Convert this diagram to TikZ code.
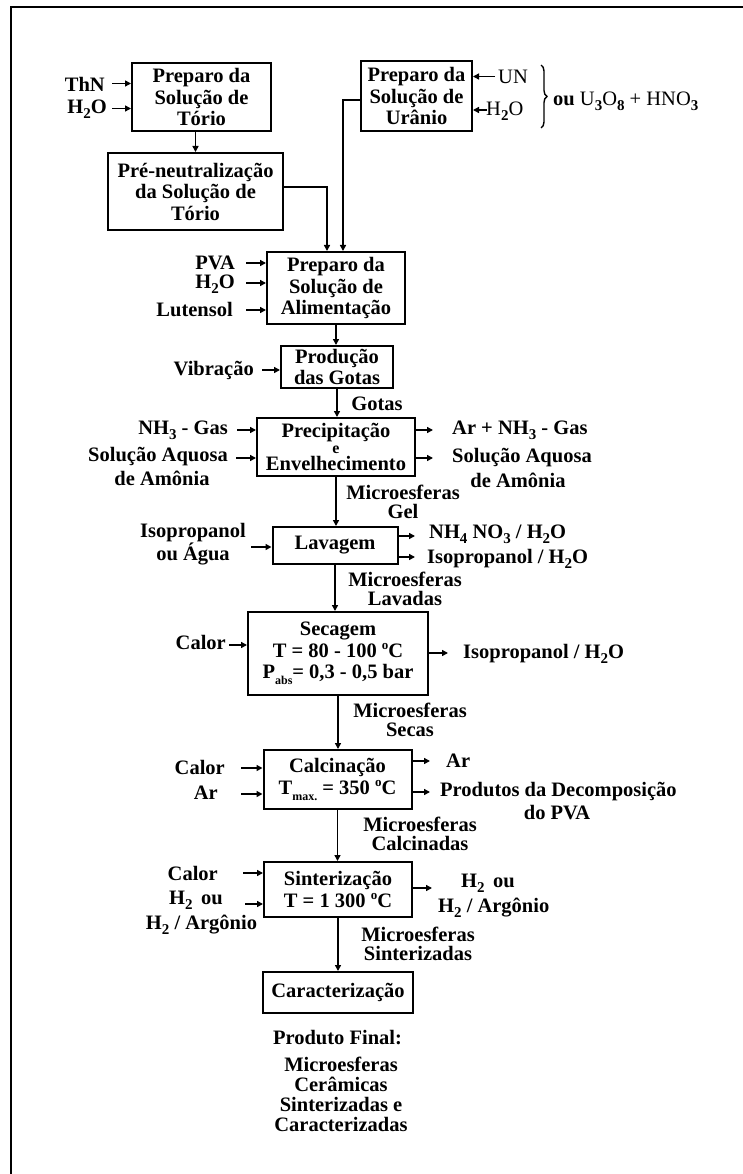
\documentclass[tikz,border=0pt]{standalone}
\usepackage{fontspec}
\setmainfont{Liberation Serif}
\usetikzlibrary{arrows.meta,decorations.pathreplacing}
% subscripts / superscripts used in the chemical formulas and units
\newcommand\lowidx[1]{\raisebox{-0.5ex}{\fontsize{15}{15}\selectfont\bfseries #1}}
\newcommand\smallidx[1]{\raisebox{-0.6ex}{\fontsize{12}{12}\selectfont\bfseries #1}}
\newcommand\highidx[1]{\raisebox{0.85ex}{\fontsize{13}{13}\selectfont #1}}

\begin{document}
\begin{tikzpicture}[x=1pt,y=-1pt,
  every node/.style={font=\fontsize{20.5}{21.5}\selectfont\bfseries, inner sep=0pt, align=center},
  stage/.style={draw, line width=2pt},
  lab/.style={},
  thin/.style={font=\fontsize{20.5}{21.5}\selectfont},
  tag/.style={font=\fontsize{20.5}{19.5}\selectfont\bfseries},
  arr/.style={line width=1.8pt, -{Triangle[length=6pt,width=6pt]}}]

\useasboundingbox (0,0) rectangle (743,1174);
\fill[white] (0,0) rectangle (743,1174);

% outer frame
\draw[line width=1.8pt] (11,1174) -- (11,7) -- (743,7);

% process stages
\node[stage, minimum width=139pt, minimum height=68pt] (tor) at (201.5,97) {Preparo da\\Solução de\\Tório};
\node[stage, minimum width=175pt, minimum height=77pt] (pren) at (195.5,191.5) {Pré-neutralização\\da Solução de\\Tório};
\node[stage, minimum width=111pt, minimum height=70pt] (ura) at (416.5,96) {Preparo da\\Solução de\\Urânio};
\node[stage, minimum width=138pt, minimum height=72pt] (alim) at (336,288) {Preparo da\\Solução de\\Alimentação};
\node[stage, minimum width=112pt, minimum height=42pt] (prod) at (337,367) {Produção\\das Gotas};
\node[stage, minimum width=158pt, minimum height=58pt] (prec) at (336,447) {Precipitação\\[-6pt]{\fontsize{16}{16}\selectfont e}\\[-4pt]Envelhecimento};
\node[stage, minimum width=125pt, minimum height=37pt] (lav) at (335,545.5) {Lavagem};
\node[stage, minimum width=180pt, minimum height=83pt] (sec) at (338,653.5) {Secagem\\T = 80 - 100 \highidx{o}C\\P\smallidx{abs}= 0,3 - 0,5 bar};
\node[stage, minimum width=148pt, minimum height=59pt] (calc) at (337.5,779.5) {Calcinação\\T\smallidx{max.} = 350 \highidx{o}C};
\node[stage, minimum width=148pt, minimum height=55pt] (sint) at (338,889.5) {Sinterização\\T = 1 300 \highidx{o}C};
\node[stage, minimum width=150pt, minimum height=41pt] (car) at (338,992.5) {Caracterização};

% thorium branch
\node[lab, anchor=east] (lThN) at (105,84) {ThN};
\node[lab, anchor=east] (lH2Oa) at (107,109) {H\lowidx{2}O};
\coordinate (iThN) at (112,83.5);
\coordinate (iH2Oa) at (112,108.5);
\draw[arr] (iThN) -- (iThN -| tor.west);
\draw[arr] (iH2Oa) -- (iH2Oa -| tor.west);
\draw[arr] (pren.north |- tor.south) -- (pren.north);
\coordinate (pj) at (327,187);
\draw[arr] (pj -| pren.east) -- (pj) -- (pj |- alim.north);

% uranium branch
\node[thin, anchor=west] (lUN) at (498,77) {UN};
\node[thin, anchor=west] (lH2Ob) at (486,111) {H\lowidx{2}O};
\coordinate (iUN) at (495,76.5);
\coordinate (iH2Ob) at (487,110);
\draw[arr] (iUN) -- (iUN -| ura.east);
\draw[arr] (iH2Ob) -- (iH2Ob -| ura.east);
\draw[line width=1.4pt, decorate, decoration={brace, amplitude=6pt}] (541,65) -- (541,128);
\node[thin, anchor=west] (lalt) at (553,101) {\textbf{ou} U\lowidx{3}O\lowidx{8} + HNO\lowidx{3}};
\coordinate (uj) at (343,100);
\draw[arr] (uj -| ura.west) -- (uj) -- (uj |- alim.north);

% feed solution
\node[lab, anchor=east] (lPVA) at (235,263) {PVA};
\node[lab, anchor=east] (lH2Oc) at (235,284) {H\lowidx{2}O};
\node[lab, anchor=east] (lLut) at (233,310) {Lutensol};
\coordinate (iPVA) at (246,263);
\coordinate (iH2Oc) at (246,283);
\coordinate (iLut) at (246,310);
\draw[arr] (iPVA) -- (iPVA -| alim.west);
\draw[arr] (iH2Oc) -- (iH2Oc -| alim.west);
\draw[arr] (iLut) -- (iLut -| alim.west);
\draw[arr] (alim.south) -- (alim.south |- prod.north);

% droplets
\node[lab, anchor=east] (lVib) at (254,370) {Vibração};
\coordinate (iVib) at (262,370);
\draw[arr] (iVib) -- (iVib -| prod.west);
\draw[arr] (prod.south) -- (prod.south |- prec.north);
\node[tag] (tGotas) at (377,404) {Gotas};

% precipitation and ageing
\node[lab, anchor=east] (lNH3) at (228,430) {NH\lowidx{3} - Gas};
\node[lab, anchor=east] (lSol) at (228,457) {Solução Aquosa};
\node[lab] (lAmo) at (162,478) {de Amônia};
\coordinate (iNH3) at (237,430);
\coordinate (iSol) at (236,458);
\draw[arr] (iNH3) -- (iNH3 -| prec.west);
\draw[arr] (iSol) -- (iSol -| prec.west);
\node[lab, anchor=west] (oArNH3) at (452,430) {Ar + NH\lowidx{3} - Gas};
\node[lab, anchor=west] (oSol) at (452,458) {Solução Aquosa};
\node[lab] (oAmo) at (518,480) {de Amônia};
\coordinate (eArNH3) at (433,430);
\coordinate (eSol) at (433,458);
\draw[arr] (eArNH3 -| prec.east) -- (eArNH3);
\draw[arr] (eSol -| prec.east) -- (eSol);
\draw[arr] (prec.south) -- (prec.south |- lav.north);
\node[tag] (tGel) at (403,502) {Microesferas\\Gel};

% washing
\node[lab] (lIso) at (193,544) {Isopropanol\\ou Água};
\coordinate (iIso) at (251,547);
\draw[arr] (iIso) -- (iIso -| lav.west);
\node[lab, anchor=west] (oNH4) at (429,534) {NH\lowidx{4} NO\lowidx{3} / H\lowidx{2}O};
\node[lab, anchor=west] (oIsoA) at (427,559) {Isopropanol / H\lowidx{2}O};
\coordinate (eNH4) at (415,536);
\coordinate (eIsoA) at (415,557);
\draw[arr] (eNH4 -| lav.east) -- (eNH4);
\draw[arr] (eIsoA -| lav.east) -- (eIsoA);
\draw[arr] (lav.south) -- (lav.south |- sec.north);
\node[tag] (tLav) at (405,589) {Microesferas\\Lavadas};

% drying
\node[lab, anchor=east] (lCalA) at (226,642) {Calor};
\coordinate (iCalA) at (229,645);
\draw[arr] (iCalA) -- (iCalA -| sec.west);
\node[lab, anchor=west] (oIsoB) at (463,654) {Isopropanol / H\lowidx{2}O};
\coordinate (eIsoB) at (448,653);
\draw[arr] (eIsoB -| sec.east) -- (eIsoB);
\draw[arr] (sec.south) -- (sec.south |- calc.north);
\node[tag] (tSec) at (410,720) {Microesferas\\Secas};

% calcination
\node[lab, anchor=east] (lCalB) at (225,767) {Calor};
\node[lab, anchor=east] (lAr) at (218,793) {Ar};
\coordinate (iCalB) at (241,768);
\coordinate (iAr) at (241,794);
\draw[arr] (iCalB) -- (iCalB -| calc.west);
\draw[arr] (iAr) -- (iAr -| calc.west);
\node[lab, anchor=west] (oAr) at (446,761) {Ar};
\node[lab, anchor=west] (oProd) at (440,792) {Produtos da Decomposição};
\node[lab] (oPVA) at (557,813) {do PVA};
\coordinate (eAr) at (430,761);
\coordinate (eProd) at (430,792);
\draw[arr] (eAr -| calc.east) -- (eAr);
\draw[arr] (eProd -| calc.east) -- (eProd);
\draw[arr] (calc.south) -- (calc.south |- sint.north);
\node[tag] (tCal) at (420,834) {Microesferas\\Calcinadas};

% sintering
\node[lab, anchor=east] (lCalC) at (218,873) {Calor};
\node[lab, anchor=east] (lH2ou) at (223,900) {H\lowidx{2}\, ou};
\node[lab] (lH2Ar) at (201.5,925) {H\lowidx{2} / Argônio};
\coordinate (iCalC) at (243,873);
\coordinate (iH2ou) at (245,904);
\draw[arr] (iCalC) -- (iCalC -| sint.west);
\draw[arr] (iH2ou) -- (iH2ou -| sint.west);
\node[lab, anchor=west] (oH2ou) at (461,883) {H\lowidx{2}\, ou};
\node[lab, anchor=west] (oH2Ar) at (438,908) {H\lowidx{2} / Argônio};
\coordinate (eH2) at (432,888);
\draw[arr] (eH2 -| sint.east) -- (eH2);
\draw[arr] (sint.south) -- (sint.south |- car.north);
\node[tag] (tSin) at (418,944) {Microesferas\\Sinterizadas};

% final product
\node[lab] (fin) at (337.5,1038) {Produto Final:};
\node[lab, font=\fontsize{20.5}{20}\selectfont\bfseries] (finTxt) at (341,1094) {Microesferas\\Cerâmicas\\Sinterizadas e\\Caracterizadas};

\end{tikzpicture}
\end{document}
